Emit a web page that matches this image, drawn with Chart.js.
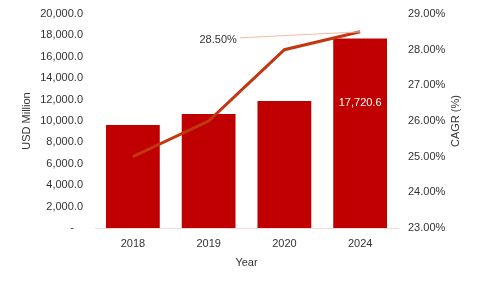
<!DOCTYPE html>
<html>
<head>
<meta charset="utf-8">
<script src="https://cdn.jsdelivr.net/npm/chart.js@4/dist/chart.umd.min.js"></script>
<style>
  body { margin: 0; background: #fff; }
  #myChart { display: block; }
</style>
</head>
<body>
<canvas id="myChart" width="482" height="287"></canvas>
<script>
var years = ['2018', '2019', '2020', '2024'];
var marketSize = [9626, 10654, 11869, 17720.6];
var cagr = [25.0, 26.0, 28.0, 28.5];
var sizeTicks = { min: 0, max: 20000, step: 2000 };
var cagrTicks = { min: 23, max: 29, step: 1 };

var textColor = '#333333';
var fontFamily = '"Liberation Sans", Arial, sans-serif';

// labels and the right-hand title
var extras = {
    id: 'extras',
    afterDatasetsDraw: function(chart) {
        var ctx = chart.ctx;
        var bars = chart.getDatasetMeta(0).data;
        var pts = chart.getDatasetMeta(1).data;
        var last = years.length - 1;
        ctx.save();
        ctx.font = '11px ' + fontFamily;

        // value label in the last bar
        var b = bars[last];
        ctx.fillStyle = '#ffffff';
        ctx.textAlign = 'center';
        ctx.textBaseline = 'middle';
        ctx.fillText(marketSize[last].toLocaleString('en-US', {minimumFractionDigits: 1}), b.x, b.y + 65);

        // CAGR label with leader line
        var p = pts[last];
        ctx.strokeStyle = '#f3b9a8';
        ctx.lineWidth = 1;
        ctx.beginPath();
        ctx.moveTo(p.x, p.y);
        ctx.lineTo(p.x - 120, p.y + 6);
        ctx.stroke();
        ctx.fillStyle = textColor;
        ctx.fillText(cagr[last].toFixed(2) + '%', p.x - 142, p.y + 8);

        // right axis title
        var a = chart.chartArea;
        ctx.translate(456, (a.top + a.bottom) / 2);
        ctx.rotate(-Math.PI / 2);
        ctx.fillText('CAGR (%)', 0, 0);
        ctx.restore();
    }
};

var canvas = document.getElementById('myChart');
var ctx = canvas.getContext('2d');

var myChart = new Chart(ctx, {
    type: 'bar',
    data: {
        labels: years,
        datasets: [{
            type: 'bar',
            label: 'Market Size',
            data: marketSize,
            backgroundColor: '#C00000',
            barPercentage: 0.71,
            categoryPercentage: 1,
            yAxisID: 'y',
            order: 2
        }, {
            type: 'line',
            label: 'CAGR',
            data: cagr,
            borderColor: '#C2370F',
            borderWidth: 3,
            pointRadius: 0,
            tension: 0,
            yAxisID: 'y1',
            order: 1
        }]
    },
    options: {
        responsive: false,
        animation: false,
        layout: { padding: { left: 20, right: 0, top: 14, bottom: 13 } },
        plugins: {
            legend: { display: false },
            tooltip: { enabled: false }
        },
        scales: {
            x: {
                grid: { display: false },
                border: { color: '#f5dada' },
                ticks: { color: textColor, font: { family: fontFamily, size: 11 }, padding: 1 },
                title: { display: true, text: 'Year', color: textColor, font: { family: fontFamily, size: 11 }, padding: { top: 4 } },
                afterFit: function(scale) { scale.height = 46; }
            },
            y: {
                min: sizeTicks.min,
                max: sizeTicks.max,
                grid: { display: false, drawTicks: false },
                border: { display: false },
                ticks: {
                    stepSize: sizeTicks.step,
                    padding: 12,
                    color: textColor,
                    font: { family: fontFamily, size: 11 },
                    callback: function(v) {
                        return v === 0 ? '-   ' : v.toLocaleString('en-US', {minimumFractionDigits: 1});
                    }
                },
                title: { display: true, text: 'USD Million', color: textColor, font: { family: fontFamily, size: 11 }, padding: 0 },
                afterFit: function(scale) { scale.width = 75; scale.paddingTop = 0; scale.paddingBottom = 0; }
            },
            y1: {
                position: 'right',
                min: cagrTicks.min,
                max: cagrTicks.max,
                grid: { display: false, drawTicks: false },
                border: { display: false },
                ticks: {
                    stepSize: cagrTicks.step,
                    padding: 10,
                    color: textColor,
                    font: { family: fontFamily, size: 11 },
                    callback: function(v) { return v.toFixed(2) + '%'; }
                },
                afterFit: function(scale) { scale.width = 84; scale.paddingTop = 0; scale.paddingBottom = 0; }
            }
        }
    },
    plugins: [extras]
});
</script>
</body>
</html>
